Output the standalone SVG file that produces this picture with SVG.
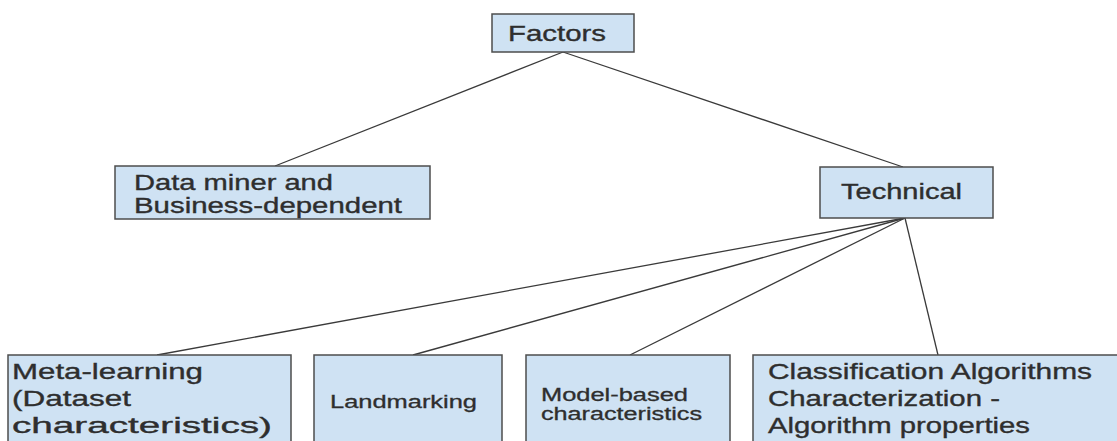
<svg xmlns="http://www.w3.org/2000/svg" width="1117" height="441" viewBox="0 0 1117 441">
<style>
.box{fill:#cfe2f3;stroke:#4d4d4d;stroke-width:1.5}
.t{font-family:"Liberation Sans",Arial,sans-serif;font-size:21.5px;fill:#2e2e2e;stroke:#2e2e2e;stroke-width:0.35}
.s{font-family:"Liberation Sans",Arial,sans-serif;font-size:17.5px;fill:#2e2e2e;stroke:#2e2e2e;stroke-width:0.3}
.c{stroke:#3a3a3a;stroke-width:1.3;fill:none}
</style>
<rect width="1117" height="441" fill="#ffffff"/>
<g id="connectors">
<line class="c" x1="563" y1="52" x2="275" y2="166"/>
<line class="c" x1="563" y1="52" x2="903" y2="167"/>
<line class="c" x1="905" y1="218" x2="157" y2="355"/>
<line class="c" x1="905" y1="218" x2="413" y2="355"/>
<line class="c" x1="905" y1="218" x2="630" y2="355"/>
<line class="c" x1="905" y1="218" x2="938" y2="355"/>
</g>
<g id="factors">
<rect class="box" x="492" y="14" width="142" height="38"/>
<text class="t" x="508" y="41" textLength="98" lengthAdjust="spacingAndGlyphs">Factors</text>
</g>
<g id="data-miner">
<rect class="box" x="115" y="166" width="315" height="53"/>
<text class="t" x="134" y="190" textLength="199" lengthAdjust="spacingAndGlyphs">Data miner and</text>
<text class="t" x="134" y="213" textLength="268" lengthAdjust="spacingAndGlyphs">Business-dependent</text>
</g>
<g id="technical">
<rect class="box" x="820" y="167" width="173" height="51"/>
<text class="t" x="841" y="199" textLength="121" lengthAdjust="spacingAndGlyphs">Technical</text>
</g>
<g id="meta-learning">
<rect class="box" x="8" y="355" width="283" height="100"/>
<text class="t" x="12" y="379" textLength="191" lengthAdjust="spacingAndGlyphs">Meta-learning</text>
<text class="t" x="12" y="406" textLength="119" lengthAdjust="spacingAndGlyphs">(Dataset</text>
<text class="t" x="12" y="433" textLength="260" lengthAdjust="spacingAndGlyphs">characteristics)</text>
</g>
<g id="landmarking">
<rect class="box" x="314" y="355" width="188" height="100"/>
<text class="s" x="330" y="408" textLength="147" lengthAdjust="spacingAndGlyphs">Landmarking</text>
</g>
<g id="model-based">
<rect class="box" x="526" y="355" width="204" height="100"/>
<text class="s" x="541" y="401" textLength="147" lengthAdjust="spacingAndGlyphs">Model-based</text>
<text class="s" x="541" y="420" textLength="161" lengthAdjust="spacingAndGlyphs">characteristics</text>
</g>
<g id="classification">
<rect class="box" x="753" y="355" width="380" height="100"/>
<text class="t" x="768" y="379" textLength="324" lengthAdjust="spacingAndGlyphs">Classification Algorithms</text>
<text class="t" x="768" y="406" textLength="232" lengthAdjust="spacingAndGlyphs">Characterization -</text>
<text class="t" x="768" y="433" textLength="262" lengthAdjust="spacingAndGlyphs">Algorithm properties</text>
</g>
</svg>
